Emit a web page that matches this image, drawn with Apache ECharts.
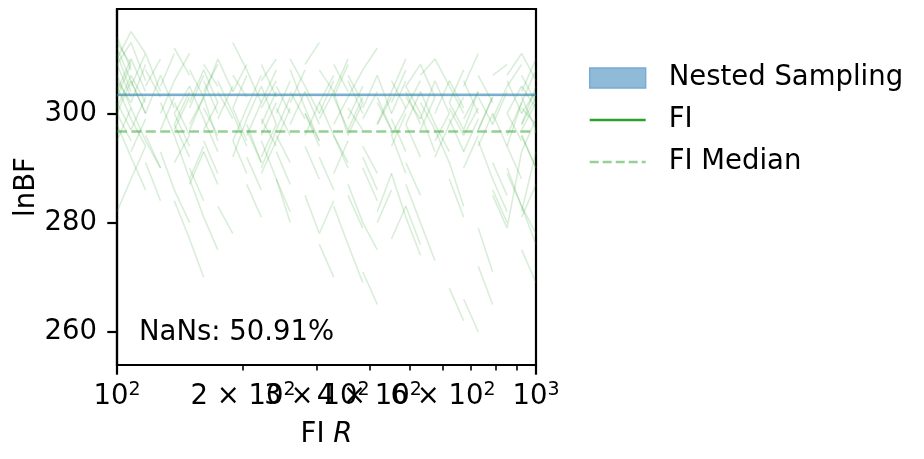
<!DOCTYPE html>
<html><head><meta charset="utf-8">
<script src="https://cdn.jsdelivr.net/npm/echarts@6/dist/echarts.min.js"></script>
<style>html,body{margin:0;padding:0;background:#fff}#c{width:924px;height:459px}</style>
</head><body><div id="c"></div>
<script>
// ---- data ----
const rValues = [100,108,117,127,137,149,161,174,189,204,221,240,259,281,304,329,356,386,418,452,489,530,574,621,672,728,788,853,924,1000];
const n = null;
const fiRuns = [
 [306,302,309,n,n,298,303,295,n,301, 307,n,n,n,299,304,296,302,n,n, 305,300,293,n,n,297,303,n,301,298],
 [311,304,n,n,296,288,294,n,n,302, n,n,308,301,295,n,n,290,284,n, n,299,306,300,n,n,n,294,302,n],
 [n,n,300,307,301,n,n,n,292,299, 305,298,n,n,n,303,309,n,n,296, 289,n,n,302,297,304,n,n,n,299],
 [298,292,286,n,n,n,303,310,304,n, n,295,301,n,n,n,287,280,275,n, n,n,300,306,n,n,291,285,n,n],
 [314,308,n,n,n,305,299,n,n,n, 290,297,303,n,n,306,n,n,298,304, 310,n,n,n,296,301,n,n,304,310],
 [n,301,295,290,n,n,n,306,300,294, n,n,n,285,278,284,n,n,303,297, n,n,n,288,281,n,n,300,295,n],
 [303,309,n,n,300,294,n,n,n,308, 302,n,n,297,n,n,n,301,307,300, n,n,292,298,n,n,305,n,n,296],
 [n,n,n,293,286,280,n,n,n,298, 291,n,n,n,302,296,290,n,n,n, 283,276,n,n,n,295,288,282,n,n],
 [309,313,306,n,n,n,297,302,n,n, 306,310,n,n,n,298,303,n,n,n, 305,309,303,n,n,n,299,305,309,n],
 [287,n,n,n,300,305,n,n,295,289, n,n,n,304,298,n,n,271,265,n, n,n,297,291,n,n,285,279,293,299],
 [n,305,311,304,n,n,299,293,n,n, n,301,296,n,n,n,307,302,n,n, 298,292,n,n,n,303,298,n,298,305],
 [300,295,n,n,n,290,284,n,n,n, 309,303,n,n,292,286,n,n,n,300, 306,n,n,268,262,n,n,n,296,290],
 [307,301,n,302,296,n,n,n,304,309, n,n,n,296,302,307,n,n,n,294, 300,n,n,n,306,300,n,n,297,302],
 [n,n,296,290,n,n,n,283,278,n, n,n,298,304,n,n,n,292,286,n, n,280,273,n,n,n,300,294,288,n],
 [312,306,300,n,n,n,309,305,n,n, n,296,291,n,n,304,310,n,n,n, 301,306,n,n,n,297,303,n,n,n],
 [n,297,303,n,n,302,308,302,n,n, n,288,282,n,n,n,297,303,n,n, n,304,298,293,n,n,n,289,283,278],
 [295,301,n,n,298,292,n,n,n,296, 302,308,n,n,n,289,295,n,n,n, 291,285,n,n,305,311,n,n,303,297],
 [n,n,305,310,n,n,306,300,n,n, n,293,287,n,n,n,306,300,n,n, n,297,303,n,n,n,286,280,n,n],
 [302,297,n,n,291,296,n,n,301,307, n,n,n,300,294,n,n,n,280,286, n,n,n,302,308,n,n,n,300,304],
 [n,310,304,n,n,n,295,289,n,n, n,305,300,n,n,n,285,279,n,n, 298,304,n,n,n,294,300,n,281,287],
 [282,288,n,n,297,303,n,n,n,292, 286,n,n,n,308,304,n,n,n,277, 283,n,n,299,293,n,n,n,305,301],
 [n,n,n,300,306,311,n,n,295,301, n,n,n,294,288,n,n,n,302,297, n,n,310,305,n,n,n,296,302,n],
 [305,299,n,n,n,287,293,n,n,n, 298,304,n,n,276,270,n,n,n,296, 301,n,n,n,290,296,n,n,302,308],
 [n,293,299,n,n,297,303,n,n,n, 289,295,n,n,n,309,304,n,n,299, 293,n,n,n,266,260,n,n,282,293],
 [n,n,n,n,n,288,281,275,n,n, n,n,n,n,n,283,276,269,n,n, n,n,n,n,n,279,271,n,n,n],
 [n,n,291,284,n,n,n,n,n,n, 295,288,280,n,n,n,n,n,n,289, 281,274,n,n,n,n,n,290,283,276],
 [310,315,311,n,n,n,n,n,313,308, n,n,n,n,n,n,n,308,312,n, n,n,n,n,n,n,307,309,n,n],
 [n,n,n,n,312,307,n,n,n,n, n,n,n,309,313,n,n,n,n,n, n,307,310,n,n,n,n,n,n,n],
 [304,310,n,n,302,296,n,299,305,n, n,300,306,n,n,n,301,297,n,n, 303,299,n,306,301,n,n,n,298,303],
 [n,299,294,n,n,308,303,n,n,297, 291,n,n,305,300,n,n,294,289,n, n,302,297,n,n,307,302,n,n,n],
 [296,n,n,305,311,n,n,n,301,295, n,n,302,308,n,n,n,299,304,n, n,n,295,300,n,n,n,306,300,n],
 [n,n,308,303,n,n,293,287,n,n, 301,306,n,n,n,296,291,n,n,n, 304,298,n,n,293,299,n,n,n,n],
 [301,307,302,n,n,n,n,304,299,n, n,n,310,305,n,n,n,n,298,303, n,n,n,301,296,n,n,n,307,302],
 [n,n,n,n,298,304,n,n,n,n, 292,298,n,n,n,n,303,308,n,n, n,n,n,n,299,304,n,n,n,n],
 [309,303,n,n,n,n,301,296,n,n, n,n,n,300,295,n,n,n,n,306, 301,n,n,n,n,n,n,300,305,n],
 [n,288,294,n,n,n,n,n,n,287, 281,n,n,n,n,n,n,n,282,289, n,n,n,n,n,n,n,n,n,n],
 [n,n,n,n,n,n,n,n,n,n, n,n,n,n,n,n,n,n,n,n, 287,280,n,n,n,272,265,n,n,n],
 [n,n,n,n,n,n,n,n,n,n, n,n,n,n,n,n,n,n,n,n, n,n,n,291,283,n,n,n,275,269],
 [313,309,n,n,n,n,n,n,n,n, n,n,n,n,n,n,n,n,n,n, n,n,n,n,n,n,n,n,n,n],
 [n,n,n,n,n,n,n,n,n,n, n,n,n,n,n,n,n,n,n,n, n,n,n,n,n,n,n,307,311,306],
 [n,306,300,n,n,n,304,309,n,n, 299,294,n,n,n,303,297,n,n,n, n,n,n,305,300,n,n,n,n,n],
 [n,n,n,297,303,n,n,n,n,n, n,n,304,299,n,n,n,n,n,302, 308,n,n,n,n,n,298,304,n,n],
 [300,306,n,n,n,n,n,n,307,303, n,n,n,n,n,n,299,305,n,n, n,n,n,n,n,n,n,n,296,290],
 [n,n,n,n,n,301,307,n,n,n, n,n,n,n,300,306,n,n,n,n, n,n,n,298,303,n,n,n,n,n],
 [n,n,n,n,284,277,270,n,n,n, 296,302,n,n,n,n,n,n,n,n, n,n,n,n,n,n,n,n,n,n]
];
const nsLow = 303.22;
const nsHigh = 303.62;
const fiMedian = 296.7;
const xRange = [100, 1000];
const yRange = [253.9, 319.15];
const yTickValues = [260, 280, 300];
const xMinorTickValues = [200, 300, 400, 500, 600, 700, 800, 900];
const xMajorTickValues = [100, 1000];
const xLabelValues = [100, 200, 300, 400, 600, 1000];
const xLabelText = {100:'{b|10}{s|2}', 200:'{b|2 × 10}{s|2}', 300:'{b|3 × 10}{s|2}', 400:'{b|4 × 10}{s|2}', 600:'{b|6 × 10}{s|2}', 1000:'{b|10}{s|3}'};
const legendNames = ['Nested Sampling', 'FI', 'FI Median'];
const nanLabel = 'NaNs: 50.91%';

// ---- chart ----
const FONT = 'DejaVu Sans';
const FS = 27.5;
const chart = echarts.init(document.getElementById('c'), null, {renderer: 'canvas'});
const axisLineStyle = {color: '#000', width: 2.2};

const series = [];
fiRuns.forEach(run => {
  series.push({
    type: 'line', name: 'FI', silent: true, symbol: 'none', showSymbol: false,
    connectNulls: false, z: 2, animation: false,
    data: rValues.map((r, i) => [r, run[i]]),
    lineStyle: {color: '#2ca02c', width: 1.6, opacity: 0.18},
    itemStyle: {color: '#2ca02c'}
  });
});
series.push({
  type: 'line', name: 'Nested Sampling', silent: true, symbol: 'none', z: 3, animation: false,
  data: [[xRange[0], (nsLow + nsHigh) / 2], [xRange[1], (nsLow + nsHigh) / 2]],
  lineStyle: {opacity: 0, width: 0},
  itemStyle: {color: '#8fbbd9'},
  markArea: {
    silent: true, animation: false,
    itemStyle: {color: 'rgba(31,119,180,0.55)', borderColor: 'rgba(31,119,180,0.35)', borderWidth: 0.6},
    data: [[{yAxis: nsLow}, {yAxis: nsHigh}]]
  }
});
series.push({
  type: 'line', name: 'FI Median', silent: true, symbol: 'none', z: 4, animation: false,
  data: [[xRange[0], fiMedian], [xRange[1], fiMedian]],
  lineStyle: {color: '#2ca02c', opacity: 0.5, width: 2.6, type: [10, 4.4]},
  itemStyle: {color: '#96d096'}
});

const option = {
  animation: false,
  backgroundColor: '#fff',
  textStyle: {fontFamily: FONT},
  grid: {left: 117, top: 9, right: 388, bottom: 94, show: true, borderColor: '#000', borderWidth: 2.2, backgroundColor: 'transparent'},
  xAxis: [{
    type: 'log', logBase: 10, min: xRange[0], max: xRange[1], position: 'bottom',
    axisLine: {show: true, lineStyle: axisLineStyle},
    axisTick: {show: true, customValues: xMinorTickValues, length: 5.6, lineStyle: {color: '#000', width: 1.6}},
    splitLine: {show: false}, minorTick: {show: false},
    axisLabel: {
      show: true, customValues: xLabelValues, margin: 16, color: '#000', hideOverlap: false,
      formatter: v => xLabelText[Math.round(v)] || '',
      rich: {
        b: {fontFamily: FONT, fontSize: FS, lineHeight: 32, color: '#000'},
        s: {fontFamily: FONT, fontSize: 19, lineHeight: 13, verticalAlign: 'top', color: '#000'}
      }
    },
    name: 'FI {i|R}', nameLocation: 'middle', nameGap: 56,
    nameTextStyle: {fontFamily: FONT, fontSize: FS, color: '#000',
      rich: {i: {fontFamily: FONT, fontStyle: 'italic', fontSize: FS, color: '#000'}}}
  }, {
    type: 'log', logBase: 10, min: xRange[0], max: xRange[1], position: 'bottom', gridIndex: 0,
    axisLine: {show: false},
    axisTick: {show: true, customValues: xMajorTickValues, length: 9.7, lineStyle: {color: '#000', width: 2.2}},
    axisLabel: {show: false}, splitLine: {show: false}
  }],
  yAxis: {
    type: 'value', min: yRange[0], max: yRange[1],
    axisLine: {show: true, lineStyle: axisLineStyle},
    axisTick: {show: true, customValues: yTickValues, length: 9.7, lineStyle: {color: '#000', width: 2.2}},
    axisLabel: {customValues: yTickValues, margin: 20, color: '#000', fontFamily: FONT, fontSize: FS},
    splitLine: {show: false},
    name: 'lnBF', nameLocation: 'middle', nameGap: 75,
    nameTextStyle: {fontFamily: FONT, fontSize: FS, color: '#000'}
  },
  legend: {
    orient: 'vertical', left: 584, top: 59, itemWidth: 56, itemHeight: 20, itemGap: 14,
    selectedMode: false,
    textStyle: {fontFamily: FONT, fontSize: FS, color: '#000', lineHeight: 28, padding: [0, 0, 0, 18]},
    data: [
      {name: legendNames[0], icon: 'rect', itemStyle: {color: '#8fbbd9', borderColor: '#79aad3', borderWidth: 1.4, opacity: 1}},
      {name: legendNames[1], icon: 'path://M0,0H56V2.6H0Z', itemStyle: {color: '#2ca02c', opacity: 1, borderWidth: 0}},
      {name: legendNames[2], icon: 'path://M0,0H9V2.6H0Z M13,0H22V2.6H13Z M26,0H35V2.6H26Z M39,0H48V2.6H39Z M52,0H56V2.6H52Z', itemStyle: {color: '#96d096', opacity: 1, borderWidth: 0}}
    ]
  },
  graphic: [{
    type: 'text', x: 139, y: 333, silent: true,
    style: {text: nanLabel, fontFamily: FONT, fontSize: FS, fill: '#000', verticalAlign: 'middle', align: 'left'}
  }],
  series: series
};
chart.setOption(option);
</script>
</body></html>
